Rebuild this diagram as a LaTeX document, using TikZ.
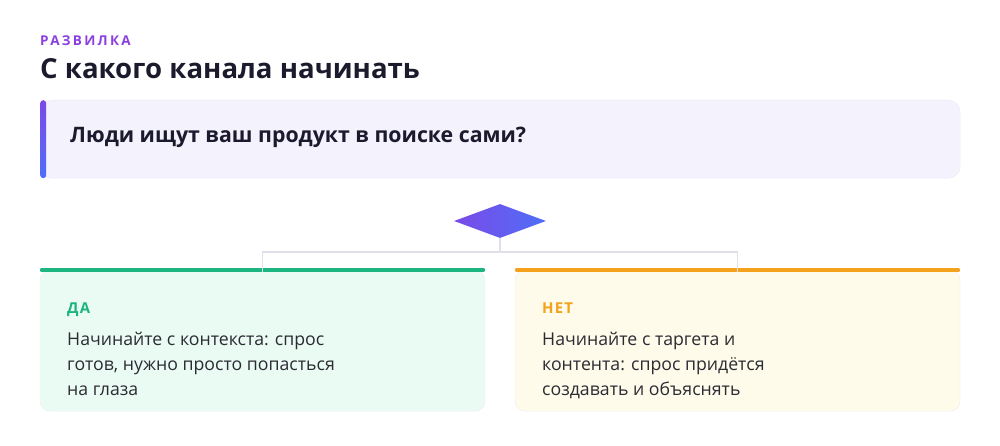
\documentclass[tikz,border=0pt]{standalone}
\usepackage{fontspec}
\setmainfont{Open Sans}
\usetikzlibrary{shapes.geometric}
\definecolor{ink}{HTML}{1C1B2E}
\definecolor{body}{HTML}{2B2B33}
\definecolor{violet}{HTML}{8B3FE0}
\definecolor{accA}{HTML}{7B4AE8}
\definecolor{accB}{HTML}{4F6EF7}
\definecolor{qfill}{HTML}{F4F2FD}
\definecolor{qline}{HTML}{EBE9F7}
\definecolor{link}{HTML}{E0E0EA}
\definecolor{yescol}{HTML}{1DB57F}
\definecolor{yesfill}{HTML}{EAFBF3}
\definecolor{nocol}{HTML}{F4A11B}
\definecolor{nofill}{HTML}{FEFBEA}
\definecolor{cardline}{HTML}{EDEEF0}
\begin{document}
\begin{tikzpicture}[x=1pt,y=-1pt,
    card/.style = {draw=cardline, rounded corners=10pt, minimum width=445pt, minimum height=141pt, inner sep=0pt, anchor=north},
    bar/.style = {line width=4pt, line cap=round, shorten <=2pt, shorten >=2pt},
    tag/.style = {anchor=base west, inner sep=0pt, font=\bfseries\fontsize{15}{17}\selectfont\addfontfeature{LetterSpace=8}},
    txt/.style = {anchor=base west, inner sep=0pt, align=left, text=body, font=\fontsize{17.7}{25}\selectfont},
    link/.style = {draw=link, line width=1.6pt}]
  \useasboundingbox (0,0) rectangle (1000,446);
  % header
  \node[anchor=base west, inner sep=0pt, text=violet, font=\bfseries\fontsize{13.5}{15}\selectfont\addfontfeature{LetterSpace=17}] (kicker) at (40,46) {РАЗВИЛКА};
  \node[anchor=base west, inner sep=0pt, text=ink, font=\bfseries\fontsize{27.6}{30}\selectfont] (title) at (40,79) {С какого канала начинать};

  % question
  \node[draw=qline, fill=qfill, rounded corners=12pt, minimum width=920pt, minimum height=78pt, anchor=north west] (q) at (40,100) {};
  \node[rounded corners=3pt, top color=accA, bottom color=accB, minimum width=6pt, minimum height=78pt, inner sep=0pt, anchor=north west] (qbar) at (40,100) {};
  \node[anchor=base west, inner sep=0pt, text=ink, font=\bfseries\fontsize{21.3}{24}\selectfont] (qtext) at (70,143) {Люди ищут ваш продукт в поиске сами?};

  % fork
  \node[diamond, left color=accA, right color=accB, minimum width=92pt, minimum height=34pt, inner sep=0pt] (dia) at (500,221) {};
  \coordinate (j) at (500,252);

  % answers
  \node[card, fill=yesfill] (yes) at (262.5,270) {};
  \node[card, fill=nofill] (no) at (737.5,270) {};
  \draw[bar, yescol] (yes.north west) -- (yes.north east);
  \draw[bar, nocol] (no.north west) -- (no.north east);

  \draw[link] (dia.south) -- (j) -| ([yshift=-2pt]yes.north);
  \draw[link] (j) -| ([yshift=-2pt]no.north);

  \node[tag, text=yescol] (yeshead) at (67,313) {ДА};
  \node[txt] (yestext) at (67,395) {Начинайте с контекста: спрос\\готов, нужно просто попасться\\на глаза};
  \node[tag, text=nocol] (nohead) at (542,313) {НЕТ};
  \node[txt] (notext) at (542,395) {Начинайте с таргета и\\контента: спрос придётся\\создавать и объяснять};
\end{tikzpicture}
\end{document}
